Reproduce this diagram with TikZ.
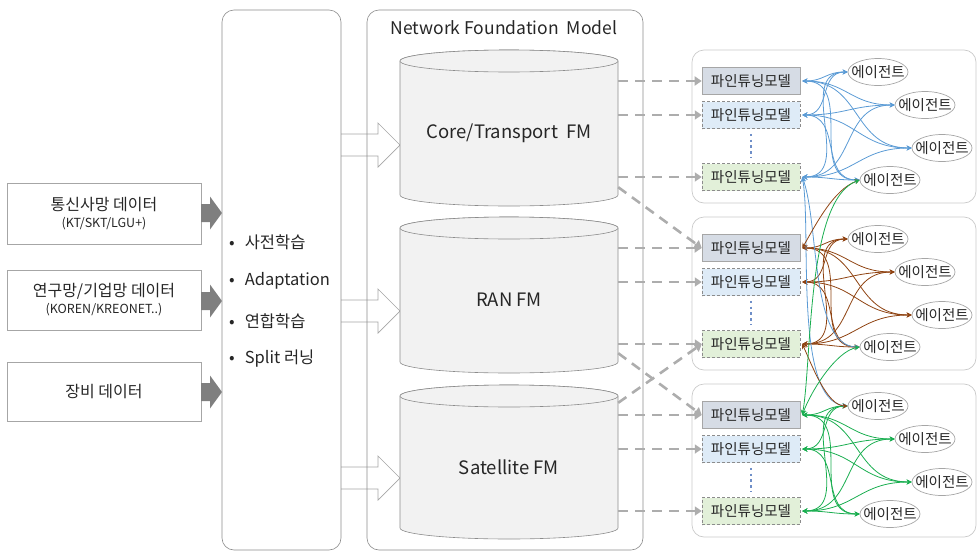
\documentclass[tikz,border=0pt]{standalone}
\usepackage{fontspec}
\setmainfont{Noto Sans CJK KR}
\usetikzlibrary{arrows.meta,shapes.geometric}

\definecolor{frameGray}{HTML}{8C8C8C}
\definecolor{boxGray}{HTML}{A6A6A6}
\definecolor{cylFill}{HTML}{F2F2F2}
\definecolor{darkArrow}{HTML}{7F7F7F}
\definecolor{dashGray}{HTML}{ADADAD}
\definecolor{grpLine}{HTML}{CACACA}
\definecolor{modelA}{HTML}{D6DCE5}
\definecolor{modelB}{HTML}{DEEBF7}
\definecolor{modelC}{HTML}{E2F0D9}
\definecolor{linkBlue}{HTML}{5B9BD5}
\definecolor{linkBrown}{HTML}{8F4312}
\definecolor{linkGreen}{HTML}{1AAE50}
\definecolor{dotBlue}{HTML}{6F8FC8}
\definecolor{textDark}{HTML}{262626}

\begin{document}
\begin{tikzpicture}[x=1pt,y=1pt,
  every node/.style={text=textDark, inner sep=0pt},
  srcbox/.style={draw=boxGray, line width=0.8pt, minimum width=194pt, align=center,
    font=\fontsize{16}{20}\selectfont},
  panel/.style={draw=frameGray, line width=0.6pt, rounded corners=12pt},
  grpbox/.style={draw=grpLine, line width=0.7pt, rounded corners=12pt},
  cylbody/.style={fill=cylFill, draw=frameGray, line width=0.6pt},
  bullet/.style={anchor=west, font=\fontsize{16.5}{19}\selectfont},
  cyltext/.style={font=\fontsize{18.5}{22}\selectfont},
  hollow/.style={fill=white, draw=boxGray, line width=0.7pt},
  solidarrow/.style={fill=darkArrow, draw=none},
  model/.style={minimum width=98pt, minimum height=27pt, font=\fontsize{14.5}{17}\selectfont},
  modelA/.style={model, fill=modelA, draw=boxGray, line width=0.6pt},
  modelB/.style={model, fill=modelB, draw=frameGray, line width=0.5pt, densely dashed},
  modelC/.style={model, fill=modelC, draw=frameGray, line width=0.5pt, densely dashed},
  agent/.style={ellipse, draw=boxGray, line width=0.7pt, minimum width=60pt, minimum height=27pt,
    inner xsep=-6pt, inner ysep=1pt, font=\fontsize{14.5}{17}\selectfont},
  feed/.style={draw=dashGray, line width=2.6pt, dash pattern=on 10pt off 7pt,
    -{Triangle[length=7pt,width=9pt,fill=dashGray]}},
  dots/.style={draw=dotBlue, line width=2.4pt, dash pattern=on 2.4pt off 3.4pt},
  link/.style={line width=0.8pt, {Stealth[length=5pt,width=5pt]}-{Stealth[length=5pt,width=5pt]}}
]
\useasboundingbox (0,0) rectangle (978,-552);

% ---------- data sources ----------
\node[srcbox, minimum height=61pt] (src1) at (104,-213.5)
  {통신사망 데이터\\[-3pt]{\fontsize{12.5}{14}\selectfont (KT/SKT/LGU+)}};
\node[srcbox, minimum height=60pt] (src2) at (104,-300)
  {연구망/기업망 데이터\\[-3pt]{\fontsize{12.5}{14}\selectfont (KOREN/KREONET..)}};
\node[srcbox, minimum height=59pt] (src3) at (104,-391.5) {장비 데이터};

% solid grey feed arrows
\foreach \y in {-213,-301,-392}{
  \fill[solidarrow] (201,\y+9) -- (210,\y+9) -- (210,\y+16.5) -- (222,\y)
    -- (210,\y-16.5) -- (210,\y-9) -- (201,\y-9) -- cycle;
}

% ---------- hollow arrows into the foundation models ----------
\foreach \y in {-145,-311,-478}{
  \draw[hollow] (341,\y+11) -- (378,\y+11) -- (378,\y+22) -- (400,\y)
    -- (378,\y-22) -- (378,\y-11) -- (341,\y-11);
}

% ---------- learning panel ----------
\node[panel, minimum width=119pt, minimum height=540pt] (learn) at (281.5,-280) {};
\node[bullet] (b1) at (229,-242) {•\hspace{10pt}사전학습};
\node[bullet] (b2) at (229,-281) {•\hspace{10pt}Adaptation};
\node[bullet] (b3) at (229,-321) {•\hspace{10pt}연합학습};
\node[bullet] (b4) at (229,-359) {•\hspace{10pt}Split 러닝};

% ---------- foundation model panel ----------
\node[panel, minimum width=276pt, minimum height=540pt] (nfm) at (505,-280) {};
\node[font=\fontsize{17.5}{21}\selectfont] (nfmtitle) at (504,-28) {Network Foundation\hspace{4pt} Model};

% cylinders: top ellipse centre / bottom ellipse centre
\foreach \t/\b in {61/195, 228/362, 396/528}{
  \filldraw[cylbody] (400,-\t) -- (400,-\b)
    arc[start angle=180, end angle=360, x radius=109, y radius=11]
    -- (618,-\t) arc[start angle=0, end angle=180, x radius=109, y radius=11] -- cycle;
  \draw[cylbody] (509,-\t) ellipse[x radius=109, y radius=11];
}
\node[minimum width=218pt, minimum height=134pt] (cyl1) at (509,-128) {};
\node[minimum width=218pt, minimum height=134pt] (cyl2) at (509,-295) {};
\node[minimum width=218pt, minimum height=132pt] (cyl3) at (509,-462) {};
\node[cyltext] (core) at (509,-133) {Core/Transport\hspace{4pt} FM};
\node[cyltext] (ran)  at (509,-300) {RAN FM};
\node[cyltext] (sat)  at (509,-467) {Satellite FM};

% ---------- fine-tuned model groups ----------
\foreach \g/\o in {1/0, 2/167, 3/334}{
  \draw[grpbox] (692,-50-\o) rectangle (976,-203-\o);
}
\foreach \g/\o in {1/0, 2/167, 3/334}{
  \node[modelA] (g\g m1) at (751,-81-\o) {파인튜닝모델};
  \node[modelB] (g\g m2) at (751,-115-\o) {파인튜닝모델};
  \node[modelC] (g\g m3) at (751,-177-\o) {파인튜닝모델};
  \draw[dots] ([yshift=-5pt]g\g m2.south) -- ([yshift=6pt]g\g m3.north);
  \node[agent] (g\g a1) at (878,-72-\o) {에이전트};
  \node[agent] (g\g a2) at (925,-105-\o) {에이전트};
  \node[agent] (g\g a3) at (942,-148-\o) {에이전트};
  \node[agent] (g\g a4) at (890,-180-\o) {에이전트};
}

% ---------- feeds from the foundation models ----------
\foreach \m in {1,2,3}{
  \draw[feed] (cyl1.east |- g1m\m.west) -- (g1m\m.west);
  \draw[feed] (cyl2.east |- g2m\m.west) -- (g2m\m.west);
  \draw[feed] (cyl3.east |- g3m\m.west) -- (g3m\m.west);
}
\draw[feed] ([yshift=8pt]cyl1.south east) -- (g2m1.west);
\draw[feed] ([yshift=9pt]cyl2.south east) -- (g3m1.west);
\draw[feed] ([yshift=-7pt]cyl3.north east) -- (g2m3.west);

% ---------- model / agent links ----------
\foreach \g/\c in {1/linkBlue, 2/linkBrown, 3/linkGreen}{
  \foreach \m in {1,2,3}{
    \foreach \a in {1,2,3,4}{
      \draw[link, draw=\c] ([xshift=2pt]g\g m\m.east) to[out=0, in=180, looseness=1.2] (g\g a\a.west);
    }
  }
}
% links reaching neighbouring groups
\draw[link, draw=linkBlue] ([xshift=2pt]g1m3.east) to[out=-70, in=180, looseness=0.7] (g2a4.west);
\draw[link, draw=linkBlue] ([xshift=2pt]g1m3.east) to[out=-80, in=175, looseness=0.6] (g3a1.west);
\draw[link, draw=linkBrown] ([xshift=2pt]g2m1.east) to[out=60, in=200, looseness=0.8] (g1a4.west);
\draw[link, draw=linkBrown] ([xshift=2pt]g2m3.east) to[out=-65, in=180, looseness=0.7] (g3a1.west);
\draw[link, draw=linkGreen] ([xshift=2pt]g3m1.east) to[out=70, in=190, looseness=0.7] (g2a4.west);
\draw[link, draw=linkGreen] ([xshift=2pt]g3m1.east) to[out=80, in=200, looseness=0.6] (g1a4.west);
\end{tikzpicture}
\end{document}
